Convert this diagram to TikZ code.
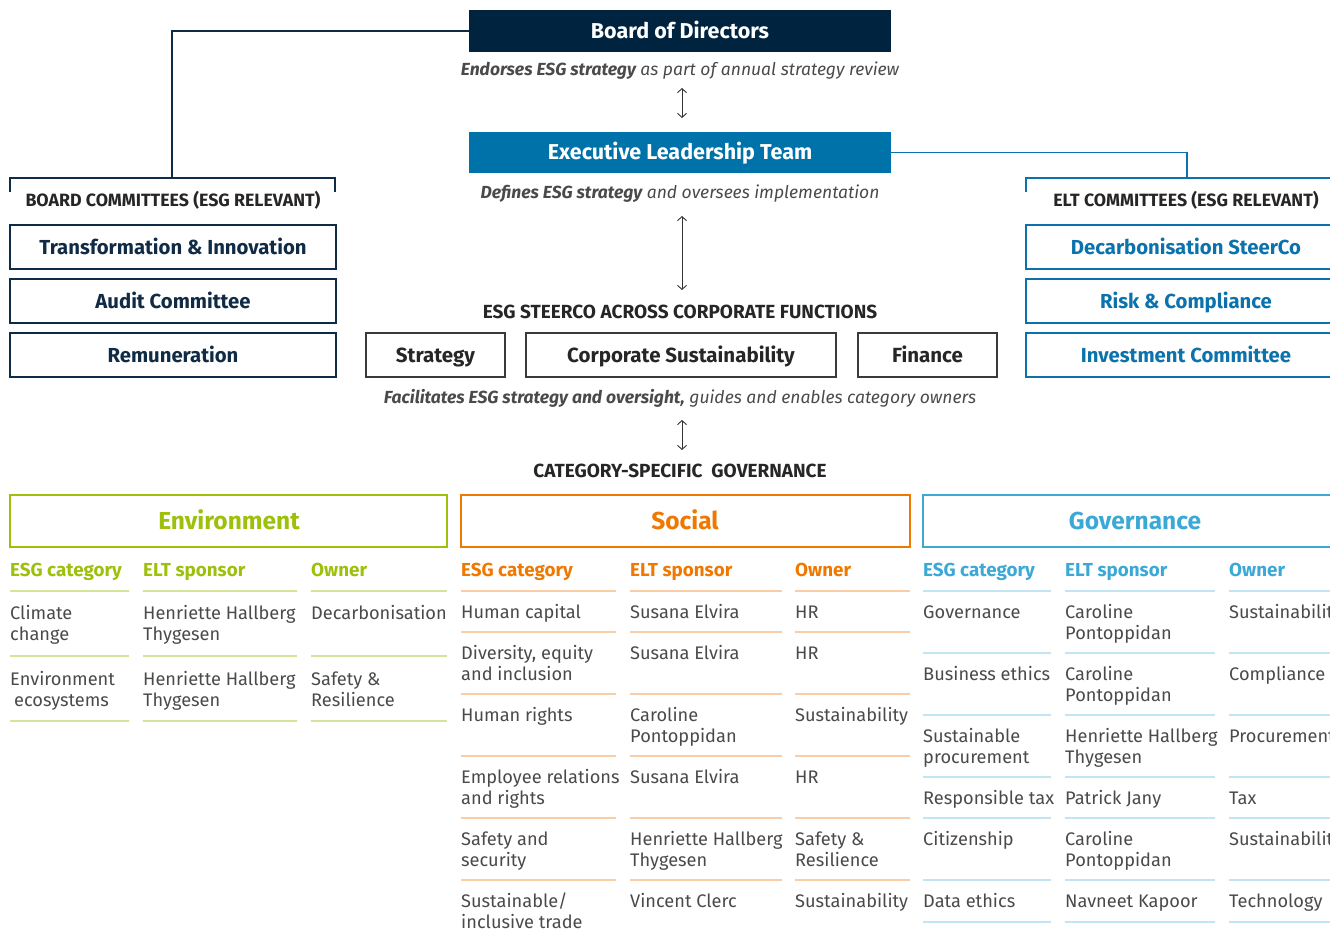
\documentclass[tikz,border=0pt]{standalone}
\usepackage{fontspec}
\setmainfont{Fira Sans}
\usetikzlibrary{arrows.meta}
\definecolor{navy}{HTML}{00233F}
\definecolor{eltblue}{HTML}{0072AA}
\definecolor{comblue}{HTML}{0B72AC}
\definecolor{headnavy}{HTML}{102B45}
\definecolor{bodygray}{HTML}{4A4A4A}
\definecolor{boxgray}{HTML}{3A3A3A}
\definecolor{envgreen}{HTML}{9DC00C}
\definecolor{envline}{HTML}{D3E59A}
\definecolor{socorange}{HTML}{F07800}
\definecolor{socline}{HTML}{F9CDA6}
\definecolor{govblue}{HTML}{3CA8D6}
\definecolor{govline}{HTML}{C3E4F2}
\newcommand{\twoln}[2]{\begin{tabular}[t]{@{}l@{}}#1\\#2\end{tabular}}
\tikzset{
  x=1pt,y=-1pt,
  topbox/.style={draw=none,inner sep=0,text=white,text height=14.8pt,text depth=0pt,font=\fontsize{21.5}{24}\selectfont\bfseries},
  combox/.style={draw=headnavy,line width=1.2pt,inner sep=0,text=headnavy,text height=14pt,text depth=0pt,font=\fontsize{20.3}{24}\selectfont\bfseries},
  eltcombox/.style={draw=comblue,line width=1.2pt,inner sep=0},
  elttext/.style={inner sep=0,text=comblue,text height=14pt,text depth=0pt,font=\fontsize{20.3}{24}\selectfont\bfseries},
  sbox/.style={draw=boxgray,line width=1.2pt,inner sep=0,text=black!85,text height=14pt,text depth=0pt,font=\fontsize{20.5}{24}\selectfont\bfseries},
  brtitle/.style={inner sep=0,anchor=base,text=black!85,font=\fontsize{17.8}{20}\selectfont\bfseries},
  midtitle/.style={inner sep=0,anchor=base,text=black!85,font=\fontsize{19}{22}\selectfont\bfseries},
  remark/.style={inner sep=0,anchor=base,text=bodygray,font=\fontsize{17.5}{21}\selectfont\itshape},
  dbl/.style={{Straight Barb[length=4pt,width=9pt]}-{Straight Barb[length=4pt,width=9pt]},line width=0.9pt,draw=black!80},
  sechead/.style={line width=1.3pt,inner sep=0},
  sectext/.style={inner sep=0,text height=17pt,text depth=0pt,font=\fontsize{24.5}{28}\selectfont\bfseries},
  colhead/.style={anchor=base west,inner sep=0,font=\fontsize{18.8}{21.7}\selectfont\bfseries},
  body/.style={anchor=base west,inner sep=0,text=bodygray,font=\fontsize{18.2}{21.7}\selectfont},
  rule/.style={line width=1.5pt}
}
\begin{document}
\begin{tikzpicture}
\useasboundingbox (0,0) rectangle (1330,939);
\clip (0,0) rectangle (1330,939);
% top boxes
\node[topbox,fill=navy,minimum width=422pt,minimum height=42pt] (board) at (680,31) {Board of Directors};
\node[topbox,fill=eltblue,minimum width=422pt,minimum height=41pt] (elt) at (680,152.5) {Executive Leadership Team};
\node[remark] (endorse) at (680,76) {\textbf{Endorses ESG strategy} as part of annual strategy review};
\node[remark] (defines) at (680,198) {\textbf{Defines ESG strategy} and oversees implementation};
\coordinate (a1t) at (682,88); \coordinate (a1b) at (682,118);
\draw[dbl] (a1t) -- (a1b);
\coordinate (a2t) at (682,216); \coordinate (a2b) at (682,290);
\draw[dbl] (a2t) -- (a2b);
% board committees
\coordinate (bl) at (10,192); \coordinate (blt) at (10,178);
\coordinate (brt) at (335,178); \coordinate (br) at (335,192);
\coordinate (bm) at (172,178);
\draw[headnavy,line width=1.2pt] (board.west) -| (bm);
\draw[headnavy,line width=1.2pt] (bl) -- (blt) -- (brt) -- (br);
\node[brtitle] (bct) at (173,206) {BOARD COMMITTEES (ESG RELEVANT)};
\node[combox,minimum width=326pt,minimum height=44pt] (ti) at (173,247) {Transformation \& Innovation};
\node[combox,minimum width=326pt,minimum height=44pt] (ac) at (173,301) {Audit Committee};
\node[combox,minimum width=326pt,minimum height=44pt] (rem) at (173,355) {Remuneration};
% ELT committees
\coordinate (el) at (1026,192); \coordinate (elt2) at (1026,178);
\coordinate (ert) at (1345,178);
\coordinate (em) at (1187,178);
\draw[comblue,line width=1.1pt] (elt.east) -| (em);
\draw[comblue,line width=1.1pt] (el) -- (elt2) -- (ert);
\node[brtitle] (ect) at (1186,206) {ELT COMMITTEES (ESG RELEVANT)};
\node[eltcombox,minimum width=326pt,minimum height=44pt] (dc) at (1189,247) {};
\node[eltcombox,minimum width=326pt,minimum height=44pt] (rc) at (1189,301) {};
\node[eltcombox,minimum width=326pt,minimum height=44pt] (ic) at (1189,355) {};
\node[elttext] (dct) at (1186,247) {Decarbonisation SteerCo};
\node[elttext] (rct) at (1186,301) {Risk \& Compliance};
\node[elttext] (ict) at (1186,355) {Investment Committee};
% steerco
\node[midtitle] (sct) at (680,318) {ESG STEERCO ACROSS CORPORATE FUNCTIONS};
\node[sbox,minimum width=139pt,minimum height=44pt] (strat) at (435.5,355) {Strategy};
\node[sbox,minimum width=310pt,minimum height=44pt] (cs) at (681,355) {Corporate Sustainability};
\node[sbox,minimum width=139pt,minimum height=44pt] (fin) at (927.5,355) {Finance};
\node[remark] (facil) at (680,403) {\textbf{Facilitates ESG strategy and oversight,} guides and enables category owners};
\coordinate (a3t) at (682,420); \coordinate (a3b) at (682,450);
\draw[dbl] (a3t) -- (a3b);
\node[midtitle] (cat) at (680,477) {CATEGORY-SPECIFIC\ \ GOVERNANCE};
% Environment
\node[sechead,draw=envgreen,minimum width=437pt,minimum height=52pt] (env) at (228.5,521) {};
\node[sectext,text=envgreen] (envt) at (229,521) {Environment};
\node[colhead,text=envgreen] (e1) at (10,576) {ESG category};
\node[colhead,text=envgreen] (e2) at (143,576) {ELT sponsor};
\node[colhead,text=envgreen] (e3) at (311,576) {Owner};
\foreach \y in {591,656,721}{
  \draw[rule,envline] (10,\y) -- (129,\y) (143,\y) -- (297,\y) (311,\y) -- (447,\y);
}
\node[body] (e11) at (10,619) {\twoln{Climate}{change}};
\node[body] (e12) at (143,619) {\twoln{Henriette Hallberg}{Thygesen}};
\node[body] (e13) at (311,619) {Decarbonisation};
\node[body] (e21) at (10,685) {\twoln{Environment}{\hspace*{4pt}ecosystems}};
\node[body] (e22) at (143,685) {\twoln{Henriette Hallberg}{Thygesen}};
\node[body] (e23) at (311,685) {\twoln{Safety \&}{Resilience}};
% Social
\node[sechead,draw=socorange,minimum width=449pt,minimum height=52pt] (soc) at (685.5,521) {};
\node[sectext,text=socorange] (soct) at (685,521) {Social};
\node[colhead,text=socorange] (s1) at (461,576) {ESG category};
\node[colhead,text=socorange] (s2) at (630,576) {ELT sponsor};
\node[colhead,text=socorange] (s3) at (795,576) {Owner};
\foreach \y in {591,632,694,756,818,880}{
  \draw[rule,socline] (461,\y) -- (616,\y) (630,\y) -- (782,\y) (795,\y) -- (910,\y);
}
\node[body] (s11) at (461,618) {Human capital};
\node[body] (s12) at (630,618) {Susana Elvira};
\node[body] (s13) at (795,618) {HR};
\node[body] (s21) at (461,659) {\twoln{Diversity, equity}{and inclusion}};
\node[body] (s22) at (630,659) {Susana Elvira};
\node[body] (s23) at (795,659) {HR};
\node[body] (s31) at (461,721) {Human rights};
\node[body] (s32) at (630,721) {\twoln{Caroline}{Pontoppidan}};
\node[body] (s33) at (795,721) {Sustainability};
\node[body] (s41) at (461,783) {\twoln{Employee relations}{and rights}};
\node[body] (s42) at (630,783) {Susana Elvira};
\node[body] (s43) at (795,783) {HR};
\node[body] (s51) at (461,845) {\twoln{Safety and}{security}};
\node[body] (s52) at (630,845) {\twoln{Henriette Hallberg}{Thygesen}};
\node[body] (s53) at (795,845) {\twoln{Safety \&}{Resilience}};
\node[body] (s61) at (461,907) {\twoln{Sustainable/}{inclusive trade}};
\node[body] (s62) at (630,907) {Vincent Clerc};
\node[body] (s63) at (795,907) {Sustainability};
% Governance
\node[sechead,draw=govblue,minimum width=427pt,minimum height=52pt] (gov) at (1136.5,521) {};
\node[sectext,text=govblue] (govt) at (1135,521) {Governance};
\node[colhead,text=govblue] (g1) at (923,576) {ESG category};
\node[colhead,text=govblue] (g2) at (1065,576) {ELT sponsor};
\node[colhead,text=govblue] (g3) at (1229,576) {Owner};
\foreach \y in {591,653,715,777,818,880,922}{
  \draw[rule,govline] (923,\y) -- (1051,\y) (1065,\y) -- (1215,\y) (1229,\y) -- (1345,\y);
}
\node[body] (g11) at (923,618) {Governance};
\node[body] (g12) at (1065,618) {\twoln{Caroline}{Pontoppidan}};
\node[body] (g13) at (1229,618) {Sustainability};
\node[body] (g21) at (923,680) {Business ethics};
\node[body] (g22) at (1065,680) {\twoln{Caroline}{Pontoppidan}};
\node[body] (g23) at (1229,680) {Compliance};
\node[body] (g31) at (923,742) {\twoln{Sustainable}{procurement}};
\node[body] (g32) at (1065,742) {\twoln{Henriette Hallberg}{Thygesen}};
\node[body] (g33) at (1229,742) {Procurement};
\node[body] (g41) at (923,804) {Responsible tax};
\node[body] (g42) at (1065,804) {Patrick Jany};
\node[body] (g43) at (1229,804) {Tax};
\node[body] (g51) at (923,845) {Citizenship};
\node[body] (g52) at (1065,845) {\twoln{Caroline}{Pontoppidan}};
\node[body] (g53) at (1229,845) {Sustainability};
\node[body] (g61) at (923,907) {Data ethics};
\node[body] (g62) at (1065,907) {Navneet Kapoor};
\node[body] (g63) at (1229,907) {Technology};
\end{tikzpicture}
\end{document}
